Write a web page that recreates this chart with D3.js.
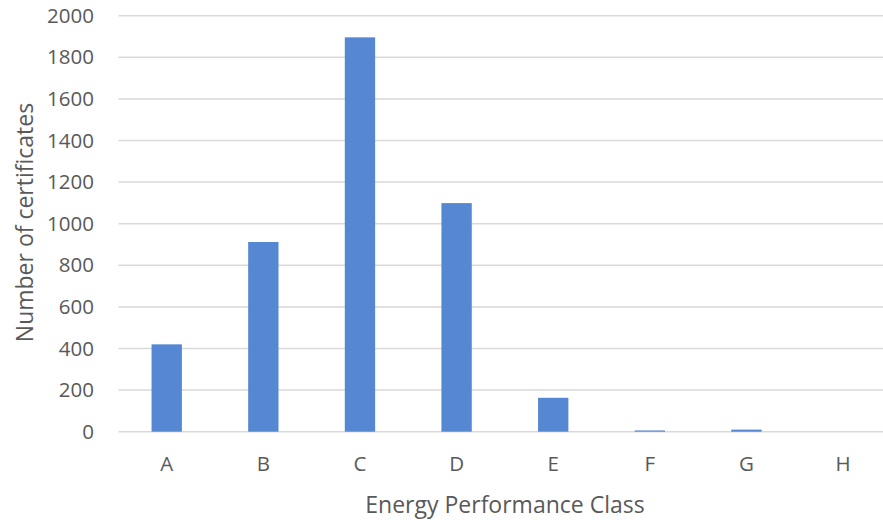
<!DOCTYPE html>
<html><head><meta charset="utf-8">
<script src="https://cdn.jsdelivr.net/npm/d3@7"></script>
<style>body{margin:0;background:#fff;overflow:hidden}text{font-family:"Open Sans",sans-serif;fill:#595959}</style>
</head><body><svg id="c" width="883" height="520"></svg>
<script>
const categories = ["A","B","C","D","E","F","G","H"];
const values = [420, 912, 1896, 1099, 163, 6, 10, 0];
const yTicks = [0,200,400,600,800,1000,1200,1400,1600,1800,2000];

const svg = d3.select("#c");
const m = {left:118.4, top:15.7, width:773, height:416};
const x = d3.scaleBand().domain(categories).range([m.left, m.left+m.width]).paddingInner(0.686).paddingOuter(0.343);
const y = d3.scaleLinear().domain([0,2000]).range([m.top+m.height, m.top]);

const grid = svg.append("g");
grid.selectAll("line").data(yTicks).join("line")
  .attr("x1", m.left).attr("x2", m.left+m.width)
  .attr("y1", d=>y(d)).attr("y2", d=>y(d))
  .attr("stroke","#d9d9d9").attr("stroke-width",1.5);

const yAxis = d3.axisLeft(y).tickValues(yTicks).tickFormat(d3.format("d")).tickSize(0).tickPadding(0);
const ya = svg.append("g").attr("transform",`translate(94,0)`).call(yAxis);
ya.select(".domain").remove();
ya.selectAll("text").attr("font-size",20.5).attr("font-family","Open Sans").attr("fill","#595959");

svg.append("g").selectAll("rect").data(categories).join("rect")
  .attr("x", d=>x(d)).attr("width", x.bandwidth())
  .attr("y", (d,i)=>y(values[i])).attr("height",(d,i)=>y(0)-y(values[i]))
  .attr("fill","#5587d2");

const xAxis = d3.axisBottom(x).tickSize(0).tickPadding(0);
const xa = svg.append("g").attr("transform",`translate(0,${y(0)+39})`).call(xAxis);
xa.select(".domain").remove();
xa.selectAll("text").attr("font-size",20.5).attr("font-family","Open Sans").attr("fill","#595959").attr("dy","0");

svg.append("text").attr("x",505).attr("y",513).attr("text-anchor","middle").attr("font-size",23).text("Energy Performance Class");
svg.append("text").attr("transform","translate(33,222.5) rotate(-90)").attr("text-anchor","middle").attr("font-size",23).text("Number of certificates");
</script></body></html>
